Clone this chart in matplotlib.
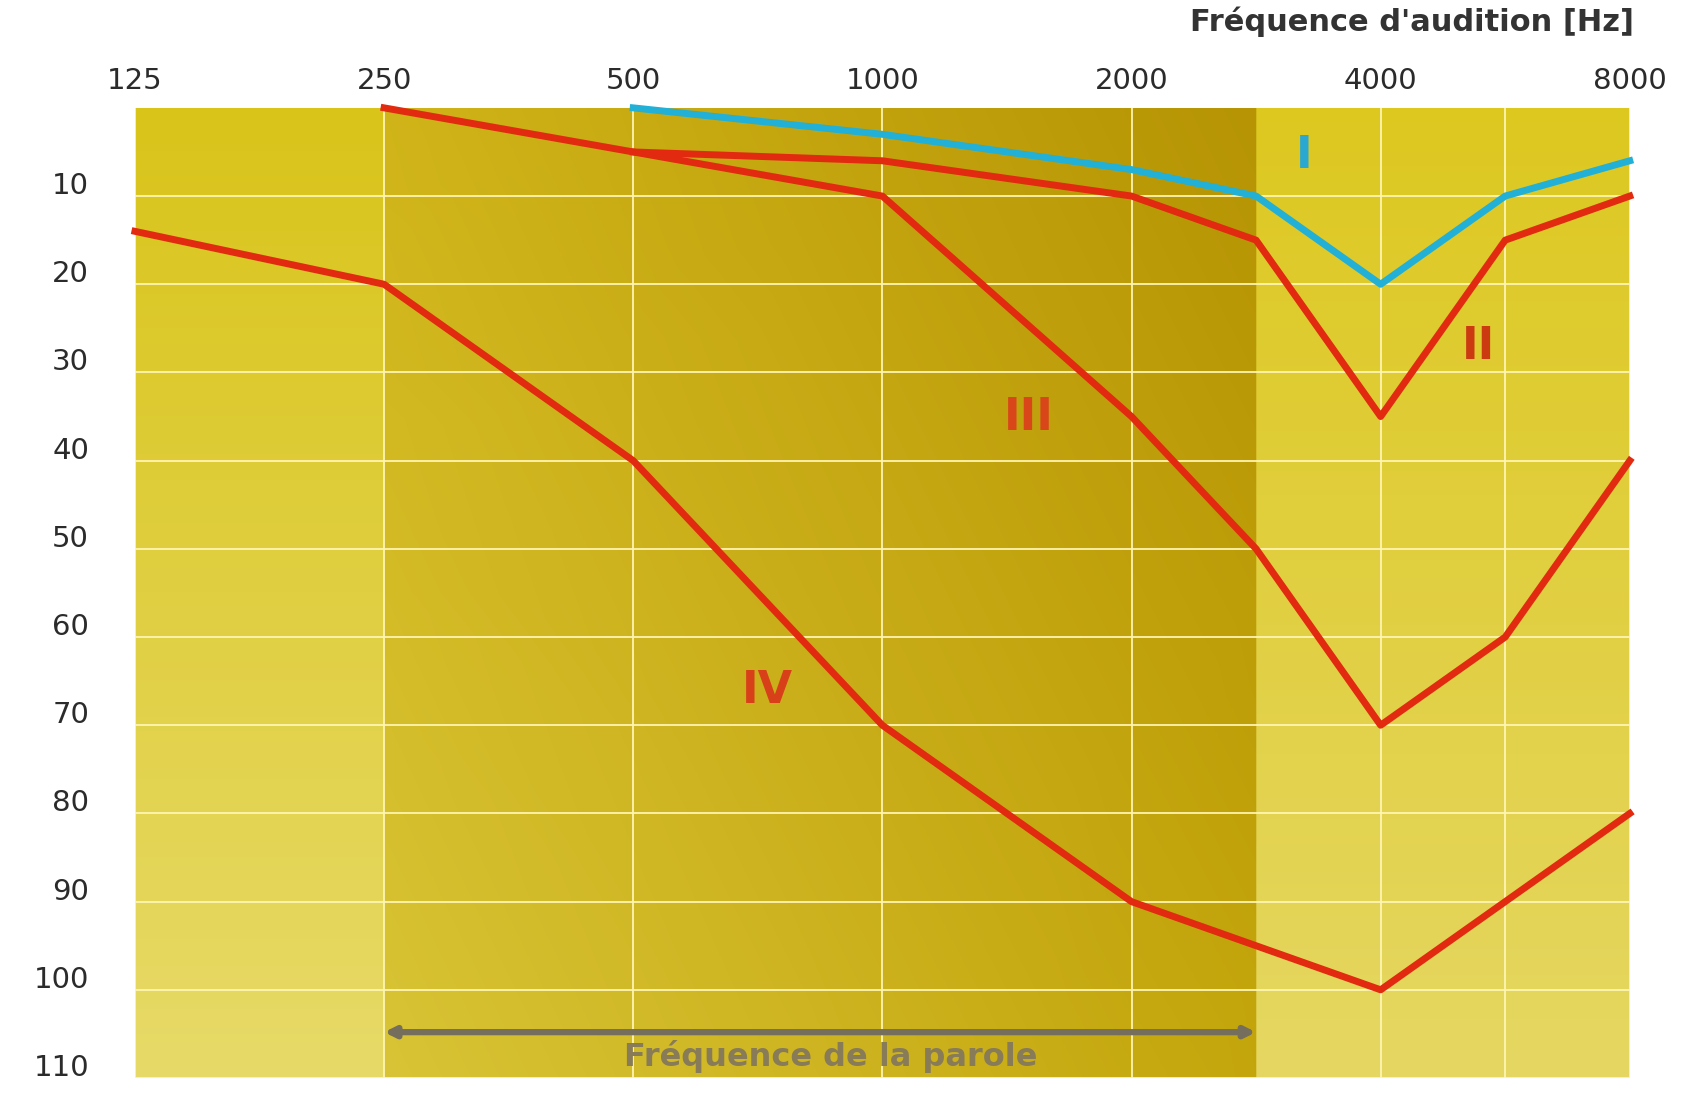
import numpy as np
import matplotlib.pyplot as plt
from matplotlib.transforms import ScaledTranslation

# audiogram frequencies and their place on the sheet (octaves, 3000/6000 halfway)
grid_freqs = [125, 250, 500, 1000, 2000, 3000, 4000, 6000, 8000]
grid_steps = [0, 1, 2, 3, 4, 4.5, 5, 5.5, 6]

tick_freqs = [125, 250, 500, 1000, 2000, 4000, 8000]
tick_labels = ["125", "250", "500", "1000", "2000", "4000", "8000"]
db_ticks = [10, 20, 30, 40, 50, 60, 70, 80, 90, 100, 110]

# hearing loss curves (dB)
freq_I = [500, 1000, 2000, 3000, 4000, 6000, 8000]
loss_I = [0, 3, 7, 10, 20, 10, 6]
freq_II = [500, 1000, 2000, 3000, 4000, 6000, 8000]
loss_II = [5, 6, 10, 15, 35, 15, 10]
freq_III = [250, 500, 1000, 2000, 3000, 4000, 6000, 8000]
loss_III = [0, 5, 10, 35, 50, 70, 60, 40]
freq_IV = [125, 250, 500, 1000, 2000, 3000, 4000, 6000, 8000]
loss_IV = [14, 20, 40, 70, 90, 95, 100, 90, 80]

speech_band = [250, 3000]

lf = np.log2(grid_freqs)


def fwd(f):
    f = np.clip(np.asarray(f, dtype=float), 1e-6, None)
    l = np.log2(f)
    p = np.interp(l, lf, grid_steps)
    p = np.where(l < lf[0], l - lf[0], p)
    p = np.where(l > lf[-1], 6 + l - lf[-1], p)
    return p


def inv(p):
    p = np.asarray(p, dtype=float)
    l = np.interp(p, grid_steps, lf)
    l = np.where(p < 0, lf[0] + p, l)
    l = np.where(p > 6, lf[-1] + p - 6, l)
    return 2 ** l


fig = plt.figure(figsize=(16.91, 10.95), dpi=100)
rect = [0.0798, 0.0155, 0.884, 0.886]

# background shading (drawn in its own axes behind the chart)
bg = fig.add_axes(rect)
bg.set_axis_off()
H, W = 300, 1200
u = (np.arange(W) + 0.5) / W * 6
t = ((np.arange(H) + 0.5) / H)[:, None, None]
x0, x1 = fwd(speech_band[0]), fwd(speech_band[1])

left_top = np.array([217, 196, 26]); left_bot = np.array([231, 218, 104])
band_tl = np.array([208, 180, 24]); band_tr = np.array([182, 148, 4])
band_bl = np.array([216, 196, 54]); band_br = np.array([196, 166, 12])
right_top = np.array([221, 200, 32]); right_bot = np.array([229, 215, 98])

s = np.clip((u - x0) / (x1 - x0), 0, 1)[None, :, None]
band = (band_tl * (1 - s) + band_tr * s) * (1 - t) + (band_bl * (1 - s) + band_br * s) * t
left = left_top * (1 - t) + left_bot * t
right = right_top * (1 - t) + right_bot * t
left = np.broadcast_to(left, band.shape)
right = np.broadcast_to(right, band.shape)
uu = u[None, :, None]
img = np.where(uu < x0, left, np.where(uu < x1, band, right)) / 255.0
bg.imshow(img, extent=(0, 1, 0, 1), aspect="auto", interpolation="bilinear")
bg.set_xlim(0, 1)
bg.set_ylim(0, 1)

ax = fig.add_axes(rect)
ax.patch.set_alpha(0)
ax.set_xscale("function", functions=(fwd, inv))
ax.set_xlim(125, 8000)
ax.set_ylim(110, 0)

for sp in ax.spines.values():
    sp.set_visible(False)

ax.set_xticks(tick_freqs)
ax.set_xticklabels(tick_labels)
ax.set_xticks([6000], minor=True)
ax.set_yticks(db_ticks)
ax.set_yticklabels([str(v) for v in db_ticks])
ax.tick_params(axis="x", which="both", top=True, labeltop=True, bottom=False,
               labelbottom=False, length=0, pad=9, labelsize=21, labelcolor="#2b2b2b")
ax.tick_params(axis="y", length=0, pad=33, labelsize=21, labelcolor="#2b2b2b")
off = ScaledTranslation(0, 13 / 100, fig.dpi_scale_trans)
for lab in ax.get_yticklabels():
    lab.set_transform(lab.get_transform() + off)

ax.grid(True, which="both", color="#fff6b4", lw=1.4, alpha=0.9)

red = "#e12a10"
ax.plot(freq_IV, loss_IV, color=red, lw=5, clip_on=False, solid_joinstyle="round")
ax.plot(freq_III, loss_III, color=red, lw=5, clip_on=False, solid_joinstyle="round")
ax.plot(freq_II, loss_II, color=red, lw=5, clip_on=False, solid_joinstyle="round")
ax.plot(freq_I, loss_I, color="#22b0d6", lw=5, clip_on=False, solid_joinstyle="round")

ax.text(0.782, 0.951, "I", transform=ax.transAxes, color="#2aa8d2", fontsize=32,
        fontweight="bold", ha="center", va="center")
ax.text(0.899, 0.754, "II", transform=ax.transAxes, color="#cc3a12", fontsize=32,
        fontweight="bold", ha="center", va="center")
ax.text(0.598, 0.681, "III", transform=ax.transAxes, color="#d8461a", fontsize=32,
        fontweight="bold", ha="center", va="center")
ax.text(0.423, 0.399, "IV", transform=ax.transAxes, color="#d8401a", fontsize=32,
        fontweight="bold", ha="center", va="center")

# speech frequency range
ax.annotate("", xy=(speech_band[1], 104.8), xytext=(speech_band[0], 104.8),
            arrowprops=dict(arrowstyle="<|-|>,head_length=0.6,head_width=0.3",
                            color="#756e5c", lw=4.5, shrinkA=0, shrinkB=0))
ax.text(np.sqrt(speech_band[0] * speech_band[1]), 107.6, "Fréquence de la parole",
        color="#877b58", fontsize=23, fontweight="bold", ha="center", va="center")

fig.text(0.966, 0.980, "Fréquence d'audition [Hz]", color="#333333", fontsize=22,
         fontweight="bold", ha="right", va="center")

fig.savefig("out.png", dpi=100, facecolor="white")
